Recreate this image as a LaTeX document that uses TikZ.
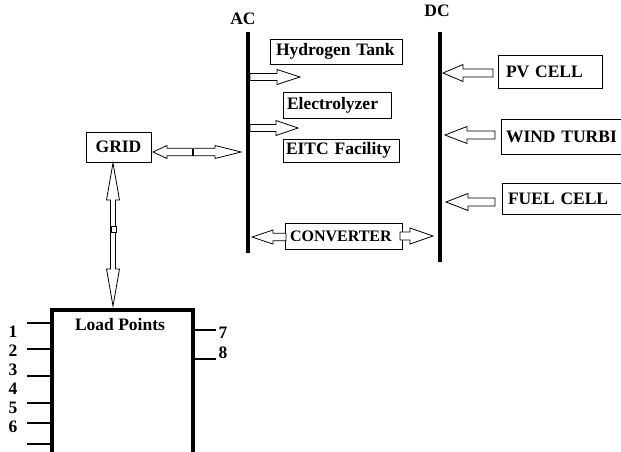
\documentclass[tikz,border=0pt]{standalone}
\usepackage{fontspec}
\setmainfont{Liberation Serif}
\usetikzlibrary{calc}
\newcommand\fsA{\bfseries\fontsize{17.5}{20}\selectfont}
\newcommand\fsB{\bfseries\fontsize{16}{19}\selectfont}
% single hollow block arrow: #1 tail, #2 tip, #3 shaft half width, #4 head half width, #5 head length
\newcommand\blkarrow[5]{%
  \coordinate (hb) at ($(#2)!#5!(#1)$);
  \draw[arr] ($(#1)!#3!90:(#2)$) -- ($(hb)!#3!90:(#2)$) -- ($(hb)!#4!90:(#2)$) -- (#2)
    -- ($(hb)!#4!-90:(#2)$) -- ($(hb)!#3!-90:(#2)$) -- ($(#1)!#3!-90:(#2)$) -- cycle;}
% double hollow block arrow: #1 tip A, #2 tip B, #3 shaft half, #4 head half, #5 head length A, #6 head length B
\newcommand\dblarrow[6]{%
  \coordinate (ha) at ($(#1)!#5!(#2)$);
  \coordinate (hb) at ($(#2)!#6!(#1)$);
  \draw[arr] (#1) -- ($(ha)!#4!90:(#2)$) -- ($(ha)!#3!90:(#2)$) -- ($(hb)!#3!90:(#2)$)
    -- ($(hb)!#4!90:(#2)$) -- (#2) -- ($(hb)!#4!-90:(#2)$) -- ($(hb)!#3!-90:(#2)$)
    -- ($(ha)!#3!-90:(#2)$) -- ($(ha)!#4!-90:(#2)$) -- cycle;}
\begin{document}
\begin{tikzpicture}[x=1pt,y=-1pt,
  box/.style={draw, line width=0.9pt, inner ysep=0pt, align=left, font=\fsA},
  lbl/.style={inner sep=0pt, font=\fsA},
  arr/.style={draw, fill=white, line width=0.8pt, line join=miter},
  bar/.style={line width=4pt},
  tickln/.style={line width=1.2pt}]
\useasboundingbox (0,0) rectangle (621,451);
\clip (0,0) rectangle (621,451);
\fill[white] (0,0) rectangle (621,451);

% bus bars
\coordinate (acT) at (248,32); \coordinate (acB) at (248,253);
\coordinate (dcT) at (440,32); \coordinate (dcB) at (440,262);
\draw[bar] (acT) -- (acB);
\draw[bar] (dcT) -- (dcB);
\node[lbl] (ac) at (243,19) {AC};
\node[lbl] (dc) at (437,11) {DC};

% boxes
\node[box, text width=120pt, inner xsep=6pt, minimum height=25pt] (ht) at (336,51.5) {Hydrogen Tank};
\node[box, text width=100pt, inner xsep=4pt, minimum height=26pt] (el) at (337,105) {Electrolyzer};
\node[box, text width=110pt, inner xsep=3pt, minimum height=23pt] (eitc) at (341,150.5) {EITC Facility};
\node[box, text width=107pt, inner xsep=5pt, minimum height=26pt, font=\fsB] (conv) at (343.5,236) {CONVERTER};
\node[box, text width=49pt, inner xsep=8pt, minimum height=30pt, align=center] (grid) at (118.5,147) {GRID};
\node[box, text width=88pt, inner xsep=8pt, minimum height=33pt] (pv) at (550,71.5) {PV CELL};
\node[box, text width=149pt, inner xsep=5pt, minimum height=35pt] (wind) at (580.5,136.5) {WIND TURBI};
\node[box, text width=146pt, inner xsep=6pt, minimum height=31pt] (fuel) at (581,198.5) {FUEL CELL};

% arrows out of AC bus
\coordinate (a1s) at (250,77);  \coordinate (a1t) at (300,77);
\coordinate (a2s) at (250,128); \coordinate (a2t) at (298,128);
\blkarrow{a1s}{a1t}{3.5pt}{7.5pt}{23pt}
\blkarrow{a2s}{a2t}{3.5pt}{7.5pt}{22pt}

% grid <-> AC
\coordinate (gA) at (153,152); \coordinate (gB) at (241,152);
\dblarrow{gA}{gB}{3.8pt}{6.5pt}{14pt}{26pt}
\draw[line width=2pt] (193,148.5) -- (193,155.5);

% converter arrows
\coordinate (cL) at (286,237); \coordinate (cLt) at (252,237);
\blkarrow{cL}{cLt}{3.8pt}{7pt}{21pt}
\coordinate (cR) at (400,236); \coordinate (cRt) at (433,236);
\blkarrow{cR}{cRt}{4pt}{8pt}{23pt}

% sources into DC bus
\coordinate (p1) at (493,73);  \coordinate (p1t) at (443,73);
\coordinate (p2) at (495,135); \coordinate (p2t) at (445,135);
\coordinate (p3) at (495,202); \coordinate (p3t) at (446,202);
\blkarrow{p1}{p1t}{4pt}{8.5pt}{20pt}
\blkarrow{p2}{p2t}{4pt}{8.5pt}{22pt}
\blkarrow{p3}{p3t}{4pt}{8.5pt}{22pt}

% grid <-> load points
\coordinate (gD) at (113,163); \coordinate (lpT) at (113,306);
\dblarrow{gD}{lpT}{2.5pt}{6.5pt}{37pt}{37pt}
\draw[line width=0.8pt, fill=white] (111,226.5) rectangle (116,232.5);

% load points box
\coordinate (lpBL) at (52,455); \coordinate (lpTL) at (52,310);
\coordinate (lpTR) at (193,310); \coordinate (lpBR) at (193,455);
\draw[bar, line join=miter] (lpBL) -- (lpTL) -- (lpTR) -- (lpBR);
\node[lbl] (lp) at (120,325) {Load Points};

% load point terminals
\foreach \yy in {323,349,376,403,423,444} \draw[tickln] (27,\yy) -- (52,\yy);
\foreach \yy in {330,359} \draw[tickln] (193,\yy) -- (216,\yy);
\node[lbl] (n1) at (13,332) {1};
\node[lbl] (n2) at (13,351) {2};
\node[lbl] (n3) at (13,370) {3};
\node[lbl] (n4) at (13,389) {4};
\node[lbl] (n5) at (13,408) {5};
\node[lbl] (n6) at (13,427) {6};
\node[lbl] (n7) at (223,333) {7};
\node[lbl] (n8) at (223,353) {8};
\end{tikzpicture}
\end{document}
